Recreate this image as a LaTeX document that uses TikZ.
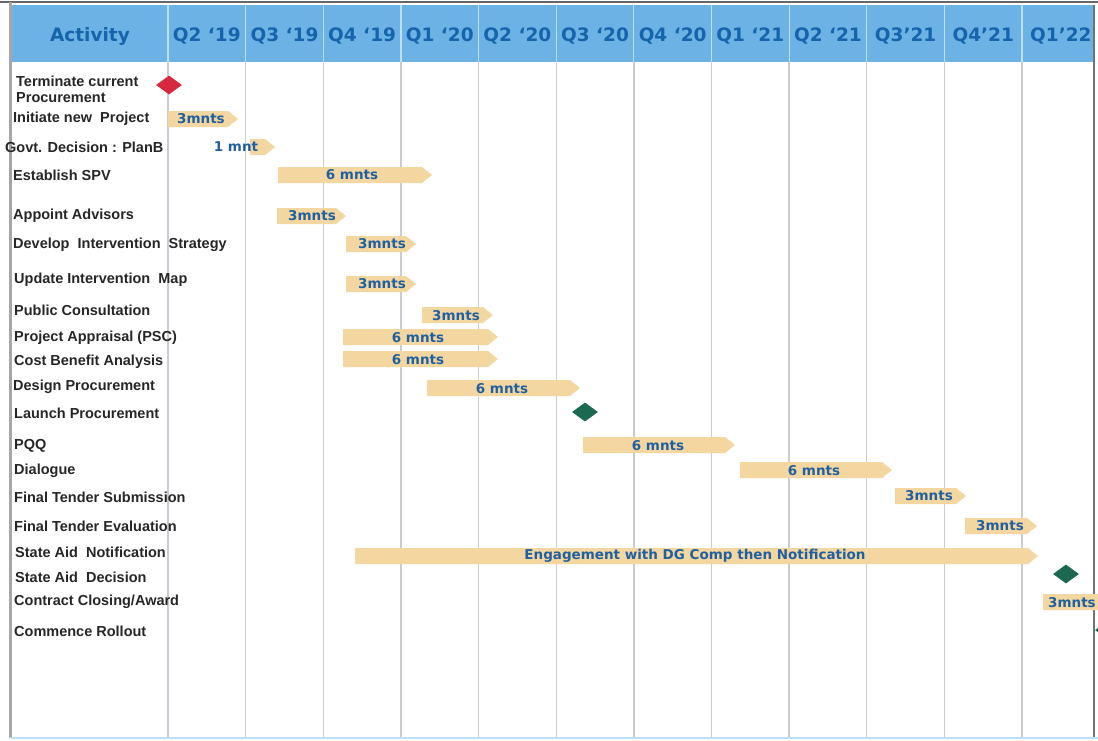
\documentclass[tikz,border=0pt]{standalone}
\usepackage{fontspec}
\setmainfont{Liberation Sans}
\newfontfamily\ganttfont{DejaVu Sans}
\usepackage{tikz}
\usetikzlibrary{positioning,shapes,calc}
\definecolor{headerblue}{RGB}{108,178,228}
\definecolor{headertext}{RGB}{22,100,172}
\definecolor{headerline}{RGB}{190,224,246}
\definecolor{gridgray}{RGB}{200,205,212}
\definecolor{bartan}{RGB}{244,214,160}
\definecolor{bartextblue}{RGB}{32,96,160}
\definecolor{labelgray}{RGB}{38,38,38}
\definecolor{milered}{RGB}{214,40,62}
\definecolor{milegreen}{RGB}{28,104,80}

% one bar of the plan: start x, tip x, row y
\newcommand{\ganttbar}[3]{%
  \fill[bartan] (#1,{#3-8}) -- ({#2-10},{#3-8}) -- (#2,#3) -- ({#2-10},{#3+8}) -- (#1,{#3+8}) -- cycle;}

\begin{document}
\begin{tikzpicture}[x=1pt,y=-1pt,
  task/.style={anchor=west, inner sep=0pt, text=labelgray, font=\bfseries\fontsize{14.5}{16}\selectfont},
  bartext/.style={inner sep=0pt, text=bartextblue, font=\ganttfont\bfseries\fontsize{13.5}{15}\selectfont},
  quarter/.style={inner sep=0pt, text=headertext, font=\ganttfont\bfseries\fontsize{18.5}{20}\selectfont},
  milestone/.style={diamond, inner sep=0pt, minimum width=26pt, minimum height=19pt},
  gridline/.style={draw=gridgray, line width=1.4pt}]
\useasboundingbox (0,0) rectangle (1098,740);
\clip (0,0) rectangle (1098,740);
\def\colw{77.64}

% Header row
\fill[headerblue] (12,5) rectangle (1094,62);
\foreach \k in {0,...,11}
  \draw[headerline, line width=1.2pt] ({168+\colw*\k},5) -- ({168+\colw*\k},62);
\node[quarter] (activity) at (90,36) {Activity};
\foreach \q [count=\i from 0] in {Q2 ‘19,Q3 ‘19,Q4 ‘19,Q1 ‘20,Q2 ‘20,Q3 ‘20,Q4 ‘20,Q1 ‘21,Q2 ‘21,Q3’21,Q4’21,Q1’22}
  \node[quarter] (q\i) at ({168+\colw*\i+\colw/2},36) {\q};

% Grid and frame
\foreach \k in {0,...,11}
  \draw[gridline] ({168+\colw*\k},62) -- ({168+\colw*\k},737);
\draw[gray!80!black, line width=1.5pt] (0,2) -- (1098,2);
\draw[gray!70, line width=3pt] (10,2) -- (10,738);
\draw[gray!90!black, line width=1.2pt] (1094,5) -- (1094,738);
\draw[headerline, line width=1.5pt] (10,738) -- (1098,738);

% Activities
\node[task, align=left] (t1) at (16,89) {Terminate current\\Procurement};
\node[task] (t2) at (13,119) {Initiate new\ \ Project};
\node[task] (t3) at (5,147) {Govt. Decision : PlanB};
\node[task] (t4) at (13,175) {Establish SPV};
\node[task] (t5) at (13,216) {Appoint Advisors};
\node[task] (t6) at (13,245) {Develop\ \ Intervention\ \ Strategy};
\node[task] (t7) at (14,280) {Update Intervention\ \ Map};
\node[task] (t8) at (14,310) {Public\ Consultation};
\node[task] (t9) at (14,338) {Project Appraisal (PSC)};
\node[task] (t10) at (14,362) {Cost Benefit Analysis};
\node[task] (t11) at (13,387) {Design Procurement};
\node[task] (t12) at (14,413) {Launch Procurement};
\node[task] (t13) at (14,446) {PQQ};
\node[task] (t14) at (14,471) {Dialogue};
\node[task] (t15) at (14,497) {Final Tender Submission};
\node[task] (t16) at (14,526) {Final Tender Evaluation};
\node[task] (t17) at (15,552) {State Aid\ \ Notification};
\node[task] (t18) at (15,577) {State Aid\ \ Decision};
\node[task] (t19) at (14,602) {Contract Closing/Award};
\node[task] (t20) at (14,631) {Commence Rollout};

% Bars
\ganttbar{168}{238}{119}
\node[bartext] (b2) at (201,119) {3mnts};
\ganttbar{250}{275}{147}
\node[bartext] (b3) at (236,147) {1 mnt};
\ganttbar{278}{432}{175}
\node[bartext] (b4) at (352,175) {6 mnts};
\ganttbar{277}{346}{216}
\node[bartext] (b5) at (312,216) {3mnts};
\ganttbar{346}{416}{244}
\node[bartext] (b6) at (382,244) {3mnts};
\ganttbar{346}{416}{284}
\node[bartext] (b7) at (382,284) {3mnts};
\ganttbar{422}{493}{315}
\node[bartext] (b8) at (456,316) {3mnts};
\ganttbar{343}{498}{337}
\node[bartext] (b9) at (418,338) {6 mnts};
\ganttbar{343}{498}{359}
\node[bartext] (b10) at (418,360) {6 mnts};
\ganttbar{427}{580}{388}
\node[bartext] (b11) at (502,389) {6 mnts};
\ganttbar{583}{735}{445}
\node[bartext] (b13) at (658,446) {6 mnts};
\ganttbar{740}{892}{470}
\node[bartext] (b14) at (814,471) {6 mnts};
\ganttbar{895}{966}{496}
\node[bartext] (b15) at (929,496) {3mnts};
\ganttbar{965}{1037}{526}
\node[bartext] (b16) at (1000,526) {3mnts};
\ganttbar{355}{1038}{556}
\node[bartext] (b17) at (695,556) {Engagement with DG Comp then Notification};
\ganttbar{1043}{1130}{602}
\node[bartext, anchor=west] (b19) at (1048,603) {3mnts};

% Milestones
\node[milestone, fill=milered] (m1) at (169,85) {};
\node[milestone, fill=milegreen] (m12) at (585,412) {};
\node[milestone, fill=milegreen] (m18) at (1066,574) {};
\node[milestone, fill=milegreen] (m20) at (1108,630) {};
\end{tikzpicture}
\end{document}
